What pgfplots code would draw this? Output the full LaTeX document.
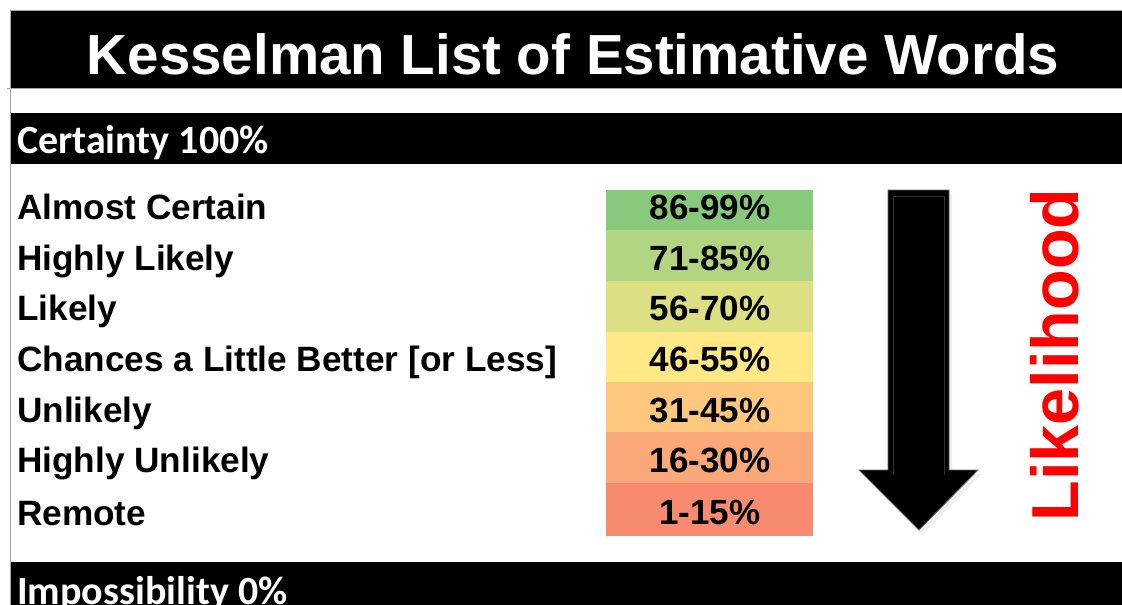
\documentclass[border=0pt]{standalone}
\usepackage{pgfplots}
\pgfplotsset{compat=1.18}
\usepackage{fontspec}
\setmainfont{Liberation Sans}
\newfontfamily\calfont{Carlito}
\definecolor{c1}{HTML}{88C97C}
\definecolor{c2}{HTML}{B1D580}
\definecolor{c3}{HTML}{DCDF82}
\definecolor{c4}{HTML}{FFE885}
\definecolor{c5}{HTML}{FDC77D}
\definecolor{c6}{HTML}{FAA877}
\definecolor{c7}{HTML}{F88A70}
\definecolor{bordergray}{HTML}{A0A8B0}
\begin{document}
\begin{tikzpicture}
\begin{axis}[scale only axis, width=1122pt, height=605pt,
  xmin=0, xmax=1122, ymin=0, ymax=605, y dir=reverse, hide axis, clip=true]
% black header bands
\addplot[fill=black, draw=none] coordinates {(10,11) (1122,11) (1122,88) (10,88)} -- cycle;
\addplot[fill=black, draw=none] coordinates {(10,113) (1122,113) (1122,164) (10,164)} -- cycle;
\addplot[fill=black, draw=none] coordinates {(10,562) (1122,562) (1122,605) (10,605)} -- cycle;
% border lines
\addplot[draw=bordergray, line width=1pt] coordinates {(10,605) (10,10) (1122,10)};
\addplot[draw=gray!70, line width=0.8pt] coordinates {(7,88.5) (1122,88.5)};
% colour cells
\addplot[fill=c1, draw=none] coordinates {(606,190) (813,190) (813,230) (606,230)} -- cycle;
\addplot[fill=c2, draw=none] coordinates {(606,230) (813,230) (813,281) (606,281)} -- cycle;
\addplot[fill=c3, draw=none] coordinates {(606,281) (813,281) (813,332) (606,332)} -- cycle;
\addplot[fill=c4, draw=none] coordinates {(606,332) (813,332) (813,382) (606,382)} -- cycle;
\addplot[fill=c5, draw=none] coordinates {(606,382) (813,382) (813,432) (606,432)} -- cycle;
\addplot[fill=c6, draw=none] coordinates {(606,432) (813,432) (813,483) (606,483)} -- cycle;
\addplot[fill=c7, draw=none] coordinates {(606,483) (813,483) (813,536) (606,536)} -- cycle;
% arrow
\addplot[fill=black!10, draw=none, opacity=0.6] coordinates {(891,194) (952,194) (952,474) (982,474) (922,535) (862,474) (891,474)} -- cycle;
\addplot[fill=black, draw=black!60, line width=0.8pt] coordinates {(888,190) (949,190) (949,470) (978,470) (919,530) (859,470) (888,470)} -- cycle;
\addplot[draw=black!80, line width=0.6pt] coordinates {(893,196) (944,196) (944,475)};
\addplot[draw=black!80, line width=0.6pt] coordinates {(893,196) (893,475)};
% texts
\node[anchor=base, text=white, inner sep=0, font=\fontsize{56.5}{60}\selectfont\bfseries] at (axis cs:573,74) {Kesselman List of Estimative Words};
\node[anchor=base west, text=white, inner sep=0, font=\calfont\fontsize{40}{44}\selectfont\bfseries] at (axis cs:17,153) {Certainty 100\%};
\node[anchor=base west, text=white, inner sep=0, font=\calfont\fontsize{40}{44}\selectfont\bfseries] at (axis cs:17,604) {Impossibility 0\%};
\begin{scope}[every node/.style={anchor=base west, inner sep=0, font=\fontsize{35.2}{40}\selectfont\bfseries}]
\node at (axis cs:17,219) {Almost Certain};
\node at (axis cs:17,270) {Highly Likely};
\node at (axis cs:17,320) {Likely};
\node at (axis cs:17,371) {Chances a Little Better [or Less]};
\node at (axis cs:17,422) {Unlikely};
\node at (axis cs:17,472) {Highly Unlikely};
\node at (axis cs:17,525) {Remote};
\end{scope}
\begin{scope}[every node/.style={anchor=base, inner sep=0, font=\fontsize{35}{40}\selectfont\bfseries}]
\node at (axis cs:710,219) {86-99\%};
\node at (axis cs:710,270) {71-85\%};
\node at (axis cs:710,320) {56-70\%};
\node at (axis cs:710,371) {46-55\%};
\node at (axis cs:710,422) {31-45\%};
\node at (axis cs:710,472) {16-30\%};
\node at (axis cs:710,524) {1-15\%};
\end{scope}
\node[rotate=90, anchor=center, inner sep=0, text=red, font=\fontsize{66.5}{70}\selectfont\bfseries] at (axis cs:1055,355) {Likelihood};
\end{axis}
\pgfresetboundingbox
\path[use as bounding box] (current axis.south west) rectangle (current axis.north east);
\end{tikzpicture}
\end{document}
